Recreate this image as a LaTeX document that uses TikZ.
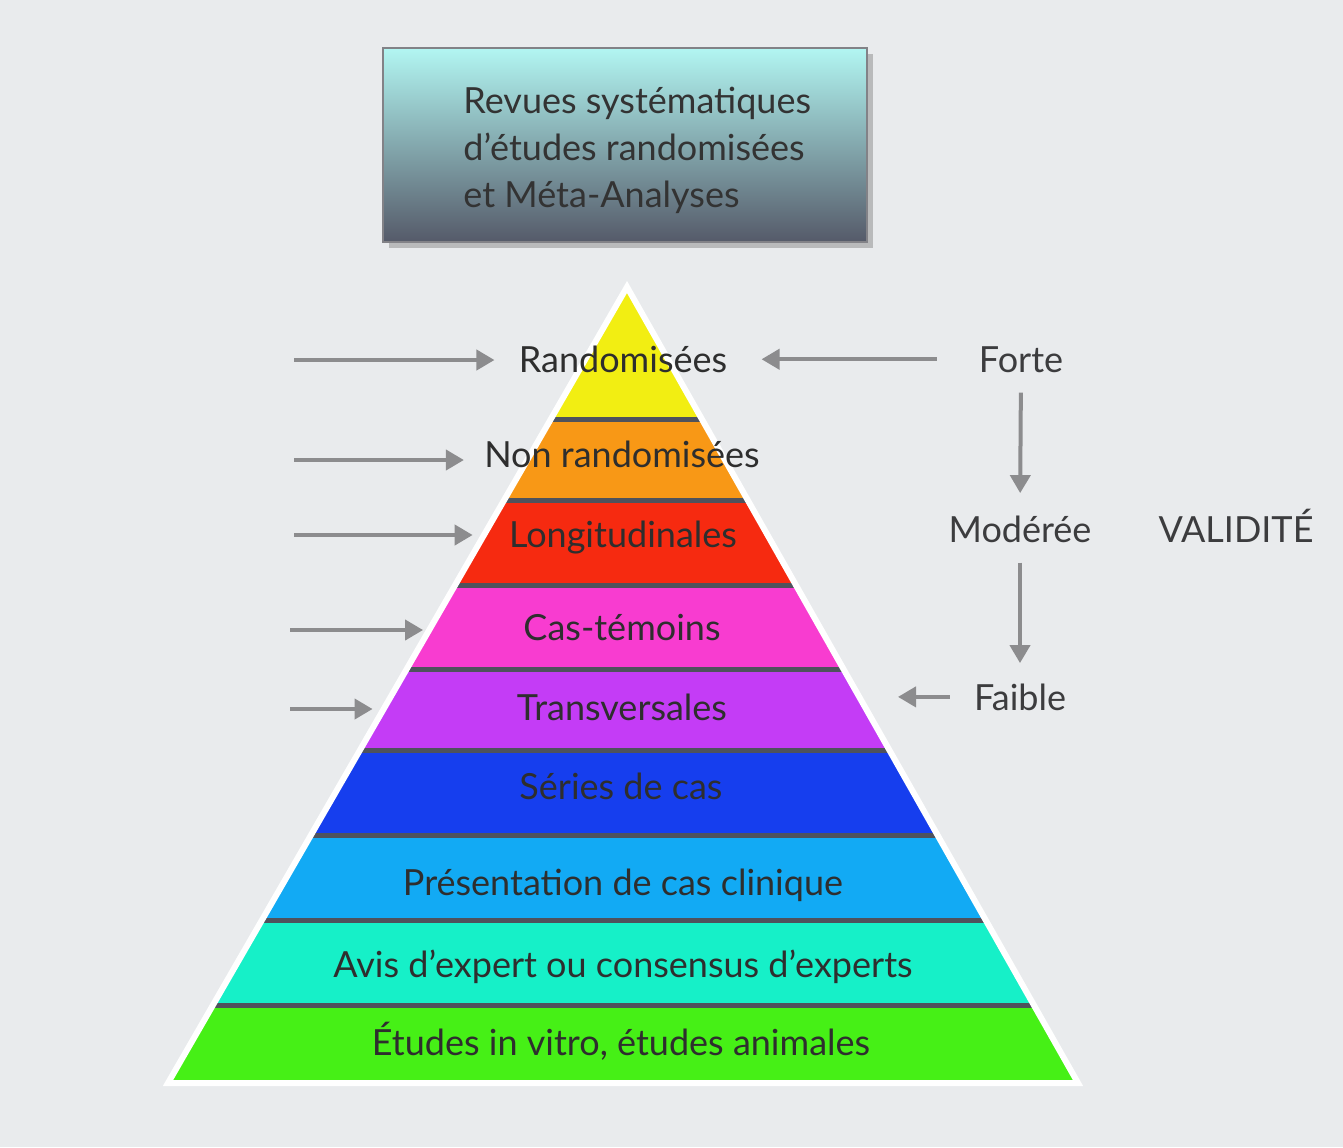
\documentclass[tikz,border=0pt]{standalone}
\usepackage{fontspec}
\setmainfont{Lato}
\usetikzlibrary{shadows,arrows.meta}
\definecolor{bgcol}{RGB}{233,235,237}
\definecolor{arrgray}{RGB}{140,140,142}
\definecolor{txtgray}{RGB}{60,60,62}
\definecolor{sepcol}{RGB}{78,82,92}
\definecolor{boxframe}{RGB}{130,130,135}
\definecolor{lvlyellow}{RGB}{242,238,18}
\definecolor{lvlorange}{RGB}{248,152,22}
\definecolor{lvlred}{RGB}{246,42,16}
\definecolor{lvlpink}{RGB}{248,60,208}
\definecolor{lvlpurple}{RGB}{196,60,246}
\definecolor{lvlblue}{RGB}{22,62,238}
\definecolor{lvlsky}{RGB}{18,170,244}
\definecolor{lvlaqua}{RGB}{22,240,200}
\definecolor{lvlgreen}{RGB}{70,240,22}
\begin{document}
\begin{tikzpicture}[x=0.5pt,y=-0.5pt,
level text/.style={font=\fontsize{18}{22}\selectfont,text=black!82,inner sep=0pt,anchor=base},
side text/.style={font=\fontsize{18}{22}\selectfont,text=txtgray,inner sep=0pt,anchor=base},
grey arrow/.style={draw=arrgray,line width=2pt,-{Triangle[length=9pt,width=10pt]}}]
\useasboundingbox (0,0) rectangle (1343,1147);
\fill[bgcol] (0,0) rectangle (1343,1147);

% top box
\node[draw=boxframe,line width=0.8pt,minimum width=242pt,minimum height=97pt,
  top color={rgb,255:red,178;green,246;blue,242},bottom color={rgb,255:red,85;green,90;blue,105},
  drop shadow={shadow xshift=3pt,shadow yshift=-3pt,opacity=.45}] (revuesbox) at (625,145) {};
\node[font=\fontsize{18}{23.5}\selectfont,text=black!80,align=left,inner sep=0pt,anchor=west]
  (revues) at (463,150) {Revues systématiques\\d'études randomisées\\et Méta-Analyses};

% pyramid
\begin{scope}
\clip (627,287) -- (168,1083) -- (1078,1083) -- cycle;
\fill[sepcol] (100,270) rectangle (1200,1090);
\fill[lvlyellow] (100,270) rectangle (1200,417);
\fill[lvlorange] (100,422) rectangle (1200,498);
\fill[lvlred] (100,503) rectangle (1200,583);
\fill[lvlpink] (100,588) rectangle (1200,667);
\fill[lvlpurple] (100,672) rectangle (1200,748);
\fill[lvlblue] (100,753) rectangle (1200,833);
\fill[lvlsky] (100,838) rectangle (1200,918);
\fill[lvlaqua] (100,923) rectangle (1200,1003);
\fill[lvlgreen] (100,1008) rectangle (1200,1083);
\end{scope}
\draw[white,line width=3pt] (627,287) -- (168,1083) -- (1078,1083) -- cycle;

\node[level text] (rando) at (623,372) {Randomisées};
\node[level text] (nonrando) at (622,467) {Non randomisées};
\node[level text] (longi) at (623,547) {Longitudinales};
\node[level text] (castem) at (622,640) {Cas-témoins};
\node[level text] (transv) at (622,720) {Transversales};
\node[level text] (series) at (621,799) {Séries de cas};
\node[level text] (presclin) at (623,895) {Présentation de cas clinique};
\node[level text] (avis) at (623,977) {Avis d'expert ou consensus d'experts};
\node[level text] (invitro) at (621,1055) {Études in vitro, études animales};

% validity scale
\node[side text] (forte) at (1021,372) {Forte};
\node[side text] (moderee) at (1020,542) {Modérée};
\node[side text] (validite) at (1236,542) {VALIDITÉ};
\node[side text] (faible) at (1020,710) {Faible};

\draw[grey arrow,shorten <=10pt,shorten >=11pt] (forte.south) -- (moderee.north);
\draw[grey arrow,shorten <=10pt,shorten >=10pt] (moderee.south) -- (faible.north);
\draw[grey arrow,shorten <=21pt,shorten >=17pt] (forte.west) -- (forte.west -| rando.east);
\coordinate (fb) at (898,700);
\draw[grey arrow,shorten <=12pt] (faible.west) -- (faible.west -| fb);

% left pointers
\coordinate (s1) at (294,360);
\coordinate (s2) at (294,460);
\coordinate (s3) at (294,535);
\coordinate (s4) at (290,630);
\coordinate (s5) at (290,709);
\draw[grey arrow,shorten >=12pt] (s1) -- (s1 -| rando.west);
\draw[grey arrow,shorten >=10pt] (s2) -- (s2 -| nonrando.west);
\draw[grey arrow,shorten >=18pt] (s3) -- (s3 -| longi.west);
\draw[grey arrow,shorten >=50pt] (s4) -- (s4 -| castem.west);
\draw[grey arrow,shorten >=72pt] (s5) -- (s5 -| transv.west);
\end{tikzpicture}
\end{document}
